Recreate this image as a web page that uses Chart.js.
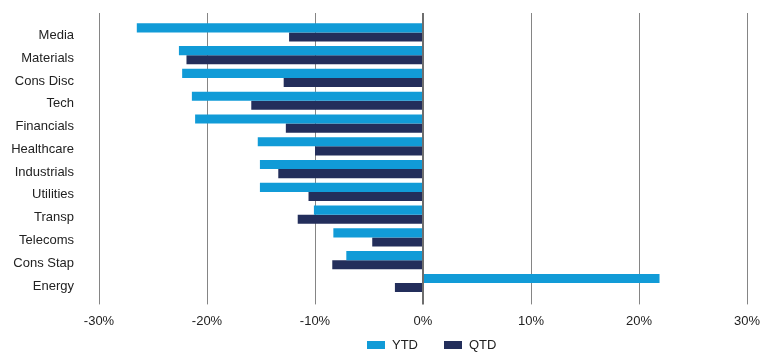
<!DOCTYPE html>
<html>
<head>
<meta charset="utf-8">
<script src="https://cdn.jsdelivr.net/npm/chart.js@4.4.0/dist/chart.umd.min.js"></script>
<style>
  body { margin: 0; background: #fff; }
  #wrap { position: relative; width: 770px; height: 358px; }
  #legend {
    position: absolute; left: 367px; top: 337px;
    display: flex; font: 13px "Liberation Sans", Arial, sans-serif; color: #222;
  }
  #legend .item { display: flex; align-items: center; margin-right: 26px; }
  #legend i { display: inline-block; width: 18px; height: 8px; margin-right: 7px; }
</style>
</head>
<body>
<div id="wrap">
  <canvas id="chart" width="770" height="358"></canvas>
  <div id="legend"></div>
</div>
<script>
const sectors = ["Media", "Materials", "Cons Disc", "Tech", "Financials", "Healthcare",
  "Industrials", "Utilities", "Transp", "Telecoms", "Cons Stap", "Energy"];
const ytd = [-26.5, -22.6, -22.3, -21.4, -21.1, -15.3, -15.1, -15.1, -10.1, -8.3, -7.1, 21.9];
const qtd = [-12.4, -21.9, -12.9, -15.9, -12.7, -10.0, -13.4, -10.6, -11.6, -4.7, -8.4, -2.6];
const xMin = -30;
const xMax = 30;
const xStep = 10;

const FONT = { family: "'Liberation Sans', Arial, sans-serif", size: 13 };
const gridWidth = (ctx) => (ctx.tick && ctx.tick.value === 0 ? 2 : 1);
const gridColor = (ctx) => (ctx.tick && ctx.tick.value === 0 ? "#6e6e6e" : "#858585");

const chart = new Chart(document.getElementById("chart"), {
  type: "bar",
  data: {
    labels: sectors,
    datasets: [
      { label: "YTD", data: ytd, backgroundColor: "#119bd7" },
      { label: "QTD", data: qtd, backgroundColor: "#232e5b" },
    ],
  },
  options: {
    indexAxis: "y",
    responsive: false,
    animation: false,
    categoryPercentage: 0.8,
    barPercentage: 1.0,
    layout: { padding: { top: 13, right: 23, bottom: 20, left: 0 } },
    plugins: {
      legend: { display: false },
      tooltip: { enabled: false },
    },
    scales: {
      x: {
        min: xMin,
        max: xMax,
        border: { display: false },
        grid: { color: gridColor, lineWidth: gridWidth, tickLength: 10 },
        ticks: {
          stepSize: xStep,
          padding: 9,
          color: "#222",
          font: FONT,
          callback: (v) => v + "%",
        },
      },
      x2: {
        position: "top",
        min: xMin,
        max: xMax,
        border: { display: false },
        grid: { color: gridColor, lineWidth: gridWidth, tickLength: 8, drawOnChartArea: false },
        ticks: { stepSize: xStep, display: false },
      },
      y: {
        border: { display: false },
        // grid hidden, tick length only used to push labels left
        grid: { display: false, drawTicks: true, tickLength: 25 },
        ticks: { padding: 0, labelOffset: 3, color: "#222", font: FONT },
        afterFit: (scale) => { scale.width = 99; },
      },
    },
  },
});

// html legend, spaced like the original
document.getElementById("legend").innerHTML = chart.data.datasets
  .map((ds) => `<span class="item"><i style="background:${ds.backgroundColor}"></i>${ds.label}</span>`)
  .join("");
</script>
</body>
</html>
